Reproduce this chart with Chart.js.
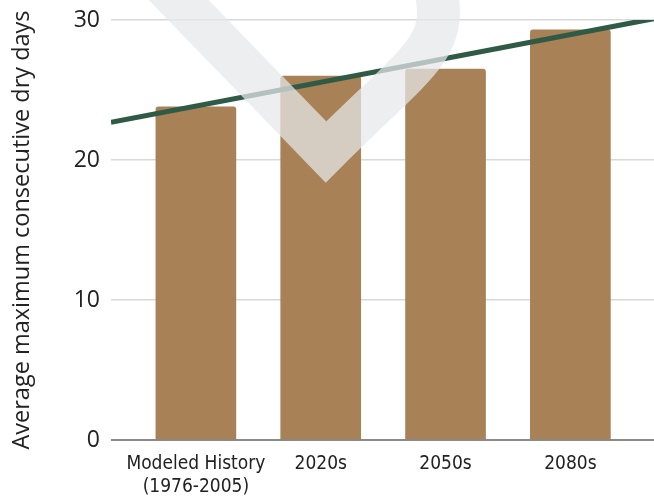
<!DOCTYPE html>
<html>
<head>
<meta charset="utf-8">
<script src="https://cdn.jsdelivr.net/npm/chart.js@4.4.1/dist/chart.umd.min.js"></script>
<style>
  html, body { margin: 0; padding: 0; background: #fff; }
  canvas { display: block; }
</style>
</head>
<body>
<canvas id="myChart" width="654" height="500"></canvas>
<script>
"use strict";
const categories = [["Modeled History", "(1976-2005)"], "2020s", "2050s", "2080s"];
const dryDays = [23.8, 26.0, 26.5, 29.3];
// trend line values at the left and right edges of the plot
const trendEnds = [22.7, 30.1];
const yTicks = [0, 10, 20, 30];

const xMin = -0.68;
const xMax = 3.67;

// faint logo mark laid over the plot
const watermark = {
    id: "watermark",
    afterDraw(chart) {
        const ctx = chart.ctx;
        ctx.save();
        ctx.strokeStyle = "rgba(230, 232, 234, 0.73)";
        ctx.lineWidth = 43;
        ctx.lineJoin = "miter";
        ctx.beginPath();
        ctx.moveTo(135, -45);
        ctx.lineTo(326, 152);
        ctx.bezierCurveTo(411, 67, 445, 50, 437.5, 0);
        ctx.lineTo(431, -45);
        ctx.stroke();
        ctx.restore();
    }
};

function drawChart() {
    const ctx = document.querySelector("#myChart").getContext("2d");
    const bars = dryDays.map((v, i) => ({ x: i, y: v }));
    const trend = [{ x: xMin, y: trendEnds[0] }, { x: xMax, y: trendEnds[1] }];

    new Chart(ctx, {
        type: "bar",
        data: {
            datasets: [{
                type: "line",
                data: trend,
                borderColor: "#2f5b46",
                borderWidth: 5,
                pointRadius: 0,
                order: 0
            }, {
                data: bars,
                backgroundColor: "#a88156",
                borderRadius: 3,
                barThickness: 80,
                order: 1
            }]
        },
        options: {
            responsive: false,
            animation: false,
            devicePixelRatio: 1,
            layout: { padding: { top: 20, right: 0, left: 0, bottom: 0 } },
            plugins: {
                legend: { display: false },
                tooltip: { enabled: false }
            },
            scales: {
                x: {
                    type: "linear",
                    offset: false,
                    min: xMin,
                    max: xMax,
                    afterFit: scale => { scale.height = 60; },
                    grid: { display: false, drawTicks: false, offset: false },
                    border: { display: false },
                    ticks: {
                        stepSize: 1,
                        includeBounds: false,
                        autoSkip: false,
                        maxRotation: 0,
                        padding: 13,
                        color: "#222",
                        font: { family: "'DejaVu Sans Condensed', 'DejaVu Sans'", size: 19 },
                        callback: v => categories[v]
                    }
                },
                y: {
                    min: 0,
                    max: 30,
                    afterFit: scale => {
                        scale.width = 111;
                        scale.paddingTop = 0;
                    },
                    afterBuildTicks: axis => { axis.ticks = yTicks.map(v => ({ value: v })); },
                    grid: {
                        drawTicks: false,
                        color: c => c.tick.value === 0 ? "#8a8a8a" : "#d9d9d9",
                        lineWidth: c => c.tick.value === 0 ? 2 : 1.5
                    },
                    border: { display: false },
                    ticks: {
                        padding: 11,
                        color: "#222",
                        font: { family: "'Open Sans'", size: 23 }
                    },
                    title: {
                        display: true,
                        text: "Average maximum consecutive dry days",
                        color: "#222",
                        font: { family: "'Open Sans'", size: 23.5 },
                        padding: { top: 8, bottom: 0 }
                    }
                }
            }
        },
        plugins: [watermark]
    });
}

drawChart();
</script>
</body>
</html>
